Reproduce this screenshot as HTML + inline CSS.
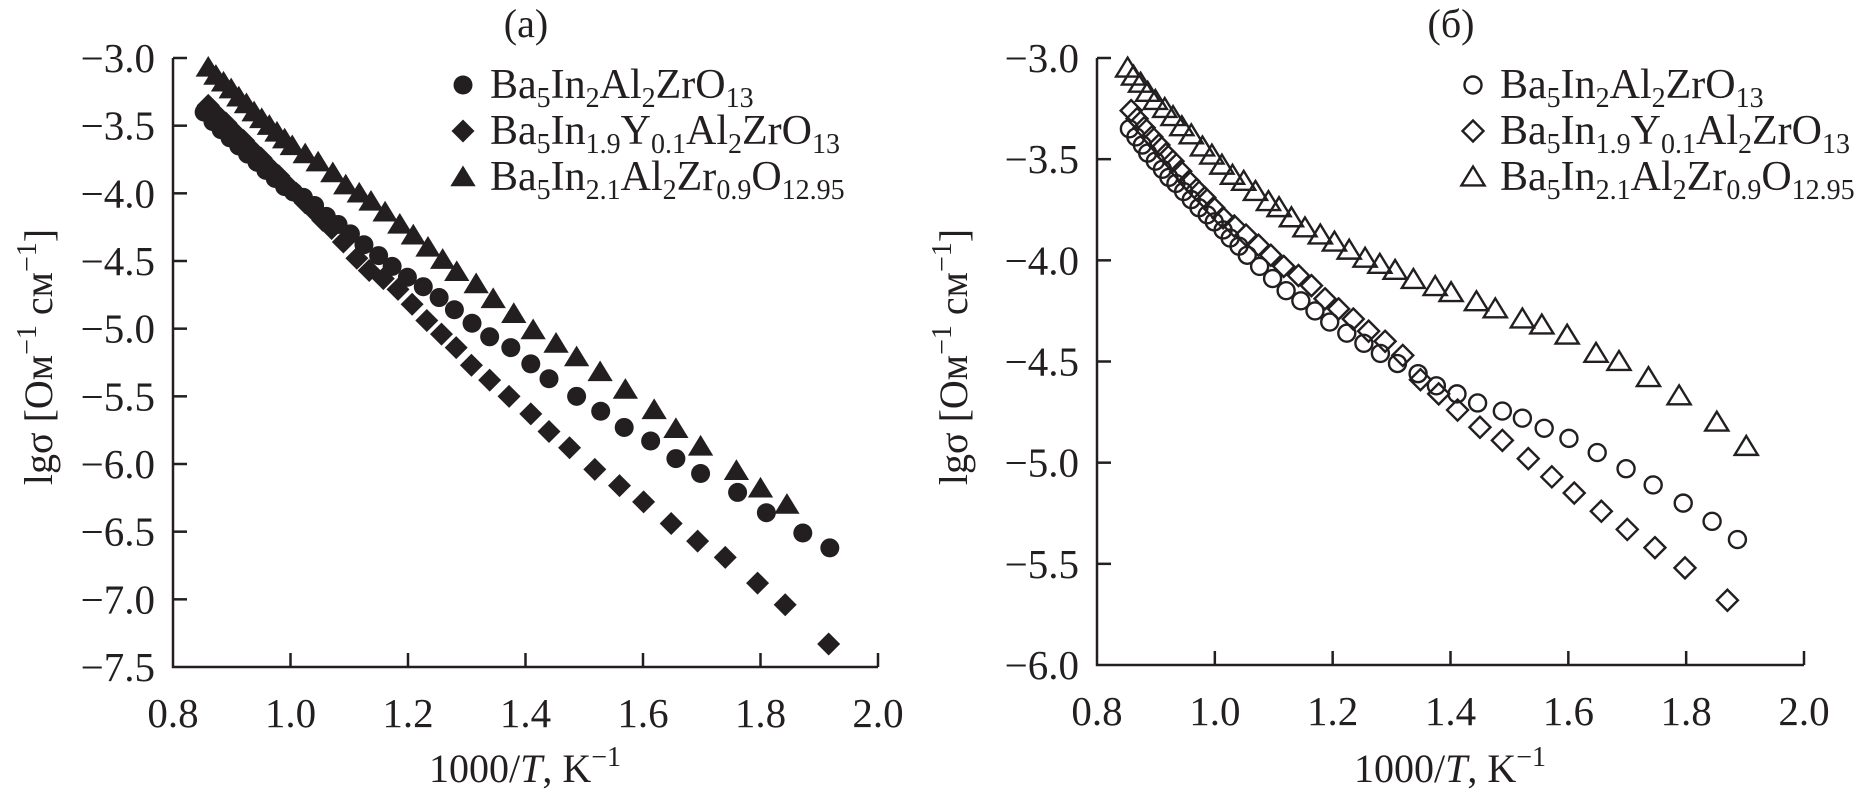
<!DOCTYPE html>
<html><head><meta charset="utf-8"><style>
html,body{margin:0;padding:0;background:#fff;}
svg{display:block;font-family:"Liberation Serif",serif;}
</style></head><body>
<svg id="chart" width="1868" height="790" viewBox="0 0 1868 790" xmlns="http://www.w3.org/2000/svg"></svg>
<script>
const xTicks=[0.8,1.0,1.2,1.4,1.6,1.8,2.0];
const xTickLabels=["0.8","1.0","1.2","1.4","1.6","1.8","2.0"];
const yTicksA=[-3.0,-3.5,-4.0,-4.5,-5.0,-5.5,-6.0,-6.5,-7.0,-7.5];
const yTickLabelsA=["−3.0","−3.5","−4.0","−4.5","−5.0","−5.5","−6.0","−6.5","−7.0","−7.5"];
const yTicksB=[-3.0,-3.5,-4.0,-4.5,-5.0,-5.5,-6.0];
const yTickLabelsB=["−3.0","−3.5","−4.0","−4.5","−5.0","−5.5","−6.0"];

const aCircX=[0.853,0.868,0.882,0.897,0.912,0.927,0.943,0.958,0.974,0.99,1.005,1.022,1.041,1.061,1.081,1.102,1.125,1.150,1.173,1.199,1.226,1.253,1.279,1.309,1.339,1.375,1.409,1.440,1.487,1.528,1.568,1.613,1.656,1.698,1.761,1.81,1.872,1.918];
const aCircY=[-3.40,-3.47,-3.53,-3.59,-3.65,-3.71,-3.77,-3.83,-3.89,-3.95,-3.99,-4.03,-4.09,-4.17,-4.23,-4.30,-4.38,-4.46,-4.54,-4.62,-4.69,-4.77,-4.86,-4.96,-5.06,-5.14,-5.26,-5.37,-5.50,-5.61,-5.73,-5.83,-5.96,-6.07,-6.21,-6.36,-6.51,-6.62];
const aDiaX=[0.860,0.875,0.890,0.905,0.920,0.935,0.950,0.965,0.980,0.995,1.010,1.025,1.040,1.055,1.070,1.090,1.113,1.134,1.158,1.183,1.207,1.232,1.257,1.282,1.308,1.339,1.372,1.409,1.440,1.475,1.518,1.560,1.601,1.648,1.693,1.740,1.795,1.842,1.916];
const aDiaY=[-3.35,-3.42,-3.48,-3.55,-3.61,-3.68,-3.74,-3.81,-3.87,-3.94,-4.00,-4.07,-4.13,-4.20,-4.26,-4.36,-4.48,-4.57,-4.63,-4.71,-4.82,-4.94,-5.04,-5.14,-5.27,-5.38,-5.50,-5.63,-5.76,-5.88,-6.04,-6.16,-6.28,-6.44,-6.57,-6.69,-6.88,-7.04,-7.33];
const aTriX=[0.860,0.873,0.886,0.899,0.912,0.925,0.938,0.951,0.964,0.977,0.990,1.003,1.025,1.047,1.072,1.094,1.117,1.137,1.161,1.186,1.209,1.234,1.259,1.283,1.316,1.345,1.380,1.413,1.452,1.487,1.527,1.570,1.619,1.656,1.698,1.759,1.80,1.845];
const aTriY=[-3.07,-3.13,-3.18,-3.23,-3.29,-3.34,-3.40,-3.45,-3.50,-3.55,-3.60,-3.65,-3.71,-3.77,-3.85,-3.94,-4.00,-4.06,-4.14,-4.23,-4.31,-4.40,-4.49,-4.58,-4.67,-4.78,-4.89,-5.01,-5.11,-5.21,-5.32,-5.45,-5.60,-5.74,-5.87,-6.05,-6.18,-6.30];

const bCircX=[0.855,0.866,0.877,0.886,0.899,0.911,0.922,0.934,0.947,0.960,0.973,0.987,0.999,1.014,1.026,1.041,1.055,1.076,1.098,1.121,1.146,1.170,1.195,1.224,1.253,1.281,1.310,1.345,1.376,1.411,1.446,1.488,1.522,1.559,1.601,1.649,1.698,1.744,1.795,1.844,1.887];
const bCircY=[-3.35,-3.39,-3.43,-3.47,-3.51,-3.55,-3.59,-3.62,-3.66,-3.70,-3.74,-3.775,-3.81,-3.85,-3.89,-3.93,-3.975,-4.03,-4.09,-4.15,-4.20,-4.25,-4.305,-4.36,-4.41,-4.46,-4.51,-4.56,-4.62,-4.66,-4.705,-4.745,-4.78,-4.83,-4.88,-4.95,-5.03,-5.11,-5.20,-5.29,-5.38];
const bDiaX=[0.858,0.868,0.880,0.893,0.905,0.917,0.929,0.942,0.956,0.969,0.983,0.998,1.014,1.033,1.053,1.074,1.095,1.117,1.142,1.164,1.187,1.210,1.235,1.261,1.289,1.319,1.349,1.380,1.412,1.450,1.488,1.532,1.572,1.610,1.656,1.700,1.747,1.798,1.870];
const bDiaY=[-3.26,-3.30,-3.345,-3.39,-3.43,-3.475,-3.51,-3.56,-3.61,-3.65,-3.69,-3.74,-3.79,-3.83,-3.875,-3.925,-3.975,-4.03,-4.075,-4.125,-4.19,-4.24,-4.29,-4.35,-4.40,-4.47,-4.59,-4.66,-4.74,-4.825,-4.89,-4.98,-5.07,-5.15,-5.24,-5.33,-5.42,-5.52,-5.68];
const bTriX=[0.852,0.862,0.874,0.886,0.899,0.915,0.929,0.944,0.960,0.979,0.995,1.012,1.030,1.049,1.069,1.091,1.109,1.130,1.153,1.179,1.203,1.228,1.255,1.280,1.306,1.337,1.374,1.401,1.444,1.476,1.522,1.555,1.598,1.647,1.686,1.736,1.788,1.852,1.902];
const bTriY=[-3.05,-3.09,-3.125,-3.17,-3.21,-3.25,-3.29,-3.34,-3.38,-3.44,-3.48,-3.53,-3.58,-3.61,-3.66,-3.71,-3.74,-3.79,-3.84,-3.875,-3.91,-3.95,-3.99,-4.02,-4.05,-4.095,-4.13,-4.16,-4.205,-4.24,-4.29,-4.32,-4.37,-4.46,-4.50,-4.58,-4.67,-4.80,-4.92];

const NS="http://www.w3.org/2000/svg";
const svg=document.getElementById('chart');
function mk(tag,attrs,parent){const e=document.createElementNS(NS,tag);for(const k in attrs)e.setAttribute(k,attrs[k]);(parent||svg).appendChild(e);return e;}

function panel(id,x0,x1,yTop,yBot,ymax,ymin,yT,yTL){
  const g=mk('g',{});
  
  
  const sx=v=>x0+(v-0.8)/(2.0-0.8)*(x1-x0);
  const sy=v=>yTop+(ymax-v)/(ymax-ymin)*(yBot-yTop);
  const ax=mk('path',{d:`M${x0},${yTop} V${yBot} H${x1}`,fill:'none',stroke:'#231f20','stroke-width':2.5},g);
  
  
  xTicks.forEach((t,i)=>{
    const X=sx(t);
    if(i>0){const tk=mk('line',{x1:X,x2:X,y1:yBot,y2:yBot-14,stroke:'#231f20','stroke-width':2.5},g);
      
      }
    const tx=mk('text',{x:X,y:yBot+60,'text-anchor':'middle','font-size':41,fill:'#231f20'},g);
    tx.textContent=xTickLabels[i];
    
    
  });
  yT.forEach((t,i)=>{
    const Y=sy(t);
    if(i<yT.length-1){const tk=mk('line',{x1:x0,x2:x0+14,y1:Y,y2:Y,stroke:'#231f20','stroke-width':2.5},g);
      
      }
    const tx=mk('text',{x:x0-18,y:Y+14,'text-anchor':'end','font-size':41,fill:'#231f20'},g);
    tx.textContent=yTL[i];
    
    
  });
  return {g,sx,sy};
}
function marker(g,type,filled,X,Y){
  const st=filled?{fill:'#231f20',stroke:'none'}:{fill:'none',stroke:'#231f20','stroke-width':2.4};
  let e;
  if(type==='c'){e=mk('circle',Object.assign({cx:X,cy:Y,r:filled?9.5:8.5},st),g);}
  else if(type==='d'){const h=filled?11.5:10.5;e=mk('path',Object.assign({d:`M${X},${Y-h}L${X+h},${Y}L${X},${Y+h}L${X-h},${Y}Z`},st),g);}
  else {const s=filled?11.5:10.5;e=mk('path',Object.assign({d:`M${X},${Y-s}L${X+s*1.1},${Y+s*0.8}L${X-s*1.1},${Y+s*0.8}Z`},st),g);}
  return e;
}
function series(p,name,type,filled,xs,ys){
  const sg=mk('g',{},p.g);
  
  
  xs.forEach((x,i)=>{
    const m=marker(sg,type,filled,p.sx(x),p.sy(ys[i]));
    
    
  });
}
function formula(g,x,y,parts,name){
  const t=mk('text',{x:x,y:y,'font-size':42,fill:'#231f20'},g);
  
  
  parts.forEach(([s,sub])=>{
    const ts=mk('tspan',sub?{'font-size':28,dy:9}:{dy:0},t);
    ts.textContent=s;
    if(sub){const r=mk('tspan',{'font-size':1,dy:-9},t);r.textContent='\u200b';}
  });
}
const F1=[["Ba",0],["5",1],["In",0],["2",1],["Al",0],["2",1],["ZrO",0],["13",1]];
const F2=[["Ba",0],["5",1],["In",0],["1.9",1],["Y",0],["0.1",1],["Al",0],["2",1],["ZrO",0],["13",1]];
const F3=[["Ba",0],["5",1],["In",0],["2.1",1],["Al",0],["2",1],["Zr",0],["0.9",1],["O",0],["12.95",1]];

function legend(p,x,filled,id){
  const lg=mk('g',{},p.g);
  
  
  const rows=[['c',F1],['d',F2],['t',F3]];
  rows.forEach(([tp,f],i)=>{
    const y=85+i*46;
    const m=marker(lg,tp,filled,x,y);
    
    
    formula(lg,x+27,y+13,f,'legend-entry');
  });
}
function titles(p,cx,yx,label,id){
  const t=mk('text',{x:cx,y:782,'text-anchor':'middle','font-size':40,fill:'#231f20'},p.g);
  
  
  t.innerHTML='1000/<tspan font-style="italic">T</tspan>, K<tspan font-size="28" dy="-16">−1</tspan>';
  const y=mk('text',{transform:`translate(${yx},357) rotate(-90)`,'text-anchor':'middle','font-size':40,fill:'#231f20'},p.g);
  
  
  y.innerHTML='lgσ [Ом<tspan font-size="28" dy="-16">−1</tspan><tspan dy="16"> см</tspan><tspan font-size="28" dy="-16">−1</tspan><tspan dy="16">]</tspan>';
  const l=mk('text',{x:id==='a'?526:1451,y:37,'text-anchor':'middle','font-size':40,fill:'#231f20'},p.g);
  
  
  l.textContent=label;
}

const A=panel('a',173,878,58,667,-3.0,-7.5,yTicksA,yTickLabelsA);
series(A,'series-ba5in2al2zro13','c',true,aCircX,aCircY);
series(A,'series-ba5in1.9y0.1al2zro13','d',true,aDiaX,aDiaY);
series(A,'series-ba5in2.1al2zr0.9o12.95','t',true,aTriX,aTriY);
legend(A,463,true,'a');
titles(A,525,52,'(a)','a');

const B=panel('b',1097,1804,58,665,-3.0,-6.0,yTicksB,yTickLabelsB);
series(B,'series-ba5in2al2zro13','c',false,bCircX,bCircY);
series(B,'series-ba5in1.9y0.1al2zro13','d',false,bDiaX,bDiaY);
series(B,'series-ba5in2.1al2zr0.9o12.95','t',false,bTriX,bTriY);
legend(B,1473,false,'b');
titles(B,1450,967,'(б)','b');
</script>
</body></html>
